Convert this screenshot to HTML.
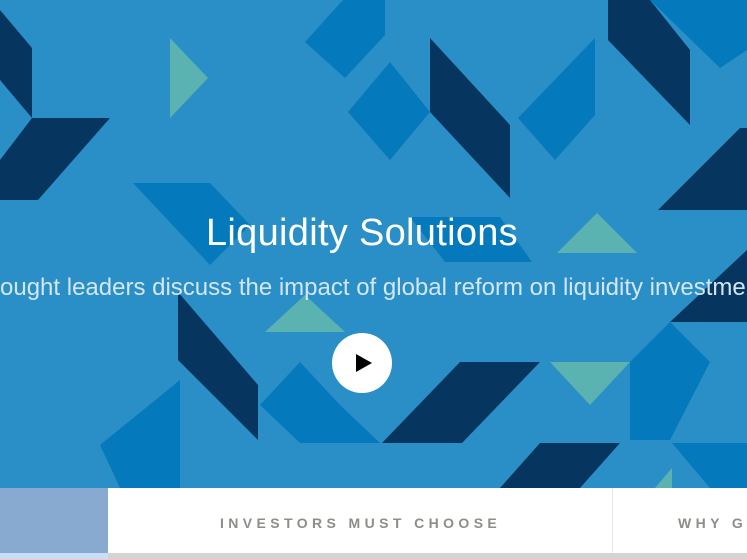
<!DOCTYPE html>
<html><head><meta charset="utf-8"><style>
body{margin:0;width:747px;height:559px;overflow:hidden;font-family:"Liberation Sans",sans-serif;background:#fff;position:relative}
#hero{position:absolute;left:0;top:0;width:747px;height:488px;overflow:hidden;background:#2a8fc7}
svg{position:absolute;left:0;top:0}
.title{position:absolute;left:0;width:724px;text-align:center;top:212px;font-size:38px;color:#fff;font-weight:300;letter-spacing:0.3px}
.sub{position:absolute;left:-28px;top:274px;white-space:nowrap;font-size:24px;color:#d4e6f2}
.play{position:absolute;left:332px;top:333px;width:60px;height:60px;border-radius:50%;background:#fff}
.play:after{content:"";position:absolute;left:24px;top:21px;border-left:16px solid #000;border-top:9px solid transparent;border-bottom:9px solid transparent}
.tab{position:absolute;top:488px;height:65px;overflow:hidden}
.lbl{font-size:14px;font-weight:bold;letter-spacing:4.4px;color:#8d8e88;position:absolute;top:27px;white-space:nowrap}
</style></head><body>
<div id="hero">
<svg width="747" height="488">
<g fill="#06355f">
<polygon points="0,10 32,48 32,118 0,80"/>
<polygon points="0,160 32,118 110,118 38,200 0,200"/>
<polygon points="430,38 510,125 510,198 430,112"/>
<polygon points="608,0 650,0 690,50 690,125 608,40"/>
<polygon points="658,210 740,128 747,128 747,210"/>
<polygon points="178,292 258,385 258,440 178,360"/>
<polygon points="382,443 460,362 540,362 462,443"/>
<polygon points="500,488 540,443 620,443 580,488"/>
<polygon points="670,322 747,250 747,322"/>
</g>
<g fill="#0479bb">
<polygon points="305,42 343,0 385,0 385,35 345,78"/>
<polygon points="348,112 390,62 430,112 390,160"/>
<polygon points="518,118 595,38 595,115 555,160"/>
<polygon points="650,0 747,0 747,50 720,68"/>
<polygon points="133,183 210,183 250,225 210,265"/>
<polygon points="410,217 500,217 532,262 445,262"/>
<polygon points="100,445 180,380 180,488 120,488"/>
<polygon points="260,405 300,362 340,405 380,443 300,443"/>
<polygon points="630,362 670,322 710,362 670,440 630,440"/>
<polygon points="672,443 747,443 747,488 710,488"/>
</g>
<g fill="#5bb3b1">
<polygon points="170,38 208,78 170,118"/>
<polygon points="557,253 597,213 637,253"/>
<polygon points="265,332 305,295 345,332"/>
<polygon points="550,362 630,362 590,405"/>
<polygon points="655,488 672,468 672,488"/>
</g>
</svg>
<div class="title">Liquidity Solutions</div>
<div class="sub">Thought leaders discuss the impact of global reform on liquidity investments</div>
<div class="play"></div>
</div>
<div class="tab" style="left:0;width:108px;background:#88a9d0"></div>
<div class="tab" style="left:108px;width:504px;border-right:1px solid #e6e6e6"><span class="lbl" style="left:112px">INVESTORS MUST CHOOSE</span></div>
<div class="tab" style="left:613px;width:134px"><span class="lbl" style="left:65px">WHY GOVERNMENT</span></div>
<div style="position:absolute;top:553px;left:0;width:108px;height:6px;background:#c5e0f5"></div>
<div style="position:absolute;top:553px;left:108px;width:639px;height:6px;background:#d4d4d4"></div>
</body></html>
